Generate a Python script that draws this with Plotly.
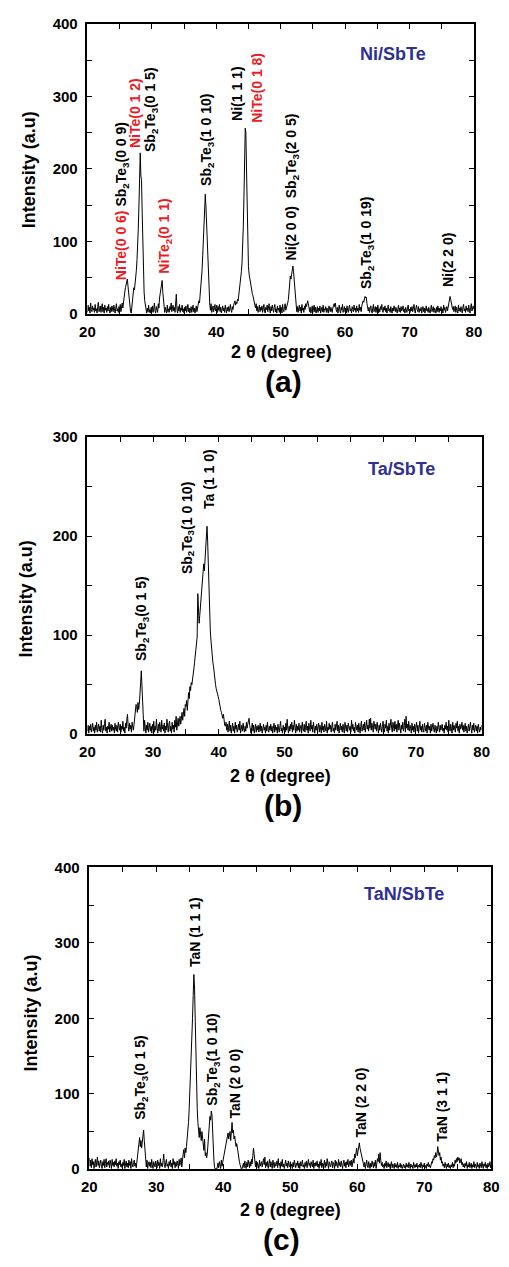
import plotly.graph_objects as go

# ---------------- data (2theta grid 20..80, step 0.1) ----------------
two_theta = [round(20 + 0.1 * i, 1) for i in range(601)]

ni_sbte = [
    2, 12, 4, 9, 1, 15, 6, 3, 11, 5,
    8, 2, 13, 4, 7, 1, 10, 16, 3, 6,
    11, 2, 7, 14, 3, 9, 1, 12, 5, 8,
    2, 10, 4, 13, 6, 1, 9, 3, 11, 7,
    3, 12, 5, 1, 8, 14, 4, 7, 2, 10,
    6, 13, 3, 9, 15, 8, 18, 22, 30, 36,
    42, 45, 48, 38, 28, 18, 8, 3, 1, 12,
    22, 30, 36, 33, 40, 52, 60, 75, 92, 118,
    150, 200, 222, 190, 185, 140, 90, 55, 30, 18,
    10, 4, 1, 8, 3, 12, 2, 6, 1, 9,
    3, 11, 2, 7, 15, 4, 1, 10, 5, 2,
    14, 8, 22, 28, 32, 40, 46, 30, 18, 6,
    2, 9, 4, 1, 12, 3, 7, 2, 10, 6,
    15, 3, 8, 12, 4, 9, 2, 11, 27, 6,
    1, 10, 4, 13, 2, 8, 5, 12, 3, 7,
    1, 9, 4, 11, 2, 6, 13, 3, 8, 1,
    5, 10, 2, 7, 12, 3, 8, 1, 6, 11,
    3, 9, 12, 18, 15, 25, 32, 45, 60, 80,
    100, 125, 150, 165, 148, 125, 85, 55, 35, 20,
    12, 5, 14, 2, 8, 11, 3, 9, 13, 4,
    8, 12, 2, 10, 5, 13, 3, 9, 1, 7,
    11, 4, 8, 2, 12, 6, 1, 9, 4, 10,
    3, 8, 13, 5, 2, 10, 6, 12, 15, 18,
    12, 16, 14, 20, 18, 25, 30, 38, 48, 58,
    70, 90, 120, 160, 200, 256, 250, 200, 140, 95,
    65, 55, 48, 42, 38, 34, 28, 25, 20, 16,
    12, 8, 14, 4, 10, 2, 7, 12, 3, 9,
    5, 11, 2, 8, 13, 4, 1, 9, 6, 12,
    3, 8, 14, 5, 1, 10, 4, 12, 7, 2,
    9, 13, 3, 7, 1, 11, 5, 8, 2, 12,
    4, 9, 1, 13, 6, 3, 10, 14, 5, 8,
    10, 15, 20, 28, 38, 52, 48, 55, 60, 66,
    58, 45, 30, 18, 8, 3, 10, 2, 7, 12,
    4, 9, 1, 13, 5, 8, 2, 11, 6, 14,
    10, 16, 18, 14, 8, 3, 9, 1, 6, 11,
    2, 7, 12, 3, 9, 1, 5, 10, 2, 8,
    4, 11, 1, 6, 9, 3, 12, 2, 7, 5,
    10, 2, 8, 4, 1, 11, 6, 3, 9, 5,
    2, 8, 12, 14, 10, 15, 6, 3, 9, 1,
    7, 12, 4, 1, 9, 5, 13, 2, 6, 10,
    3, 8, 1, 11, 5, 2, 9, 12, 4, 7,
    1, 10, 6, 3, 12, 5, 8, 2, 11, 4,
    8, 2, 13, 5, 9, 3, 11, 14, 18, 16,
    20, 24, 22, 23, 14, 8, 4, 9, 2, 7,
    11, 4, 1, 8, 13, 3, 6, 10, 2, 9,
    5, 12, 1, 7, 3, 10, 6, 13, 4, 2,
    9, 5, 11, 3, 8, 1, 6, 12, 4, 7,
    2, 10, 5, 1, 8, 4, 11, 6, 3, 9,
    5, 1, 7, 12, 3, 8, 2, 10, 4, 6,
    11, 3, 7, 1, 9, 5, 2, 8, 12, 4,
    6, 2, 9, 4, 10, 3, 7, 13, 5, 1,
    8, 12, 6, 3, 10, 2, 7, 4, 9, 1,
    6, 10, 3, 8, 1, 5, 11, 4, 7, 2,
    9, 4, 1, 7, 12, 3, 6, 10, 2, 8,
    5, 1, 9, 3, 11, 6, 2, 8, 4, 10,
    3, 7, 1, 12, 5, 9, 2, 6, 10, 4,
    8, 14, 18, 24, 20, 16, 12, 6, 10, 3,
    7, 11, 2, 9, 5, 1, 12, 4, 8, 3,
    10, 6, 1, 9, 13, 4, 7, 2, 11, 5,
    8, 3, 12, 6, 1, 9, 14, 4, 7, 11,
    6,
]

ta_sbte = [
    3, 9, 1, 8, 4, 10, 2, 6, 11, 3,
    7, 1, 9, 4, 12, 2, 6, 10, 3, 8,
    2, 14, 5, 1, 9, 4, 11, 15, 3, 7,
    1, 8, 5, 12, 2, 6, 10, 3, 9, 4,
    7, 1, 11, 5, 3, 9, 2, 12, 6, 4,
    10, 2, 8, 5, 13, 3, 7, 1, 11, 6,
    15, 20, 8, 3, 11, 5, 9, 2, 12, 6,
    4, 10, 18, 25, 30, 28, 22, 32, 25, 30,
    38, 52, 64, 48, 25, 10, 3, 14, 6, 1,
    9, 4, 12, 2, 7, 11, 3, 8, 1, 10,
    5, 13, 2, 8, 4, 15, 6, 1, 10, 3,
    12, 7, 2, 14, 5, 9, 3, 11, 1, 8,
    4, 15, 6, 2, 10, 13, 3, 8, 1, 12,
    5, 9, 2, 14, 7, 18, 4, 11, 16, 8,
    12, 18, 10, 15, 22, 14, 20, 26, 18, 30,
    28, 34, 24, 38, 42, 36, 48, 44, 52, 50,
    58, 62, 66, 72, 78, 85, 92, 98, 142, 125,
    112, 120, 128, 140, 150, 160, 168, 172, 165, 178,
    185, 200, 210, 195, 165, 140, 122, 105, 95, 85,
    75, 72, 68, 60, 55, 50, 46, 42, 40, 38,
    35, 30, 28, 24, 22, 18, 16, 20, 12, 9,
    8, 12, 4, 10, 2, 7, 13, 3, 9, 1,
    6, 11, 3, 8, 1, 12, 5, 9, 2, 7,
    10, 4, 13, 1, 6, 9, 3, 11, 5, 2,
    8, 3, 12, 6, 10, 14, 16, 9, 4, 1,
    7, 11, 3, 9, 1, 6, 10, 2, 8, 4,
    9, 2, 6, 11, 3, 8, 1, 5, 10, 4,
    7, 1, 9, 3, 12, 5, 2, 8, 4, 10,
    3, 8, 1, 6, 11, 2, 9, 4, 7, 1,
    10, 5, 2, 8, 13, 3, 6, 1, 9, 4,
    7, 2, 11, 4, 15, 6, 1, 8, 3, 10,
    5, 12, 2, 9, 4, 14, 7, 1, 10, 3,
    8, 4, 11, 2, 6, 9, 1, 12, 5, 3,
    10, 2, 7, 13, 4, 8, 1, 11, 6, 3,
    14, 5, 9, 2, 12, 6, 1, 8, 4, 10,
    3, 7, 11, 2, 9, 5, 1, 12, 4, 8,
    2, 10, 6, 3, 13, 1, 7, 4, 11, 5,
    9, 2, 8, 12, 3, 6, 1, 10, 4, 7,
    13, 3, 9, 1, 6, 11, 4, 8, 2, 10,
    5, 1, 12, 7, 3, 9, 2, 11, 6, 4,
    8, 2, 14, 5, 10, 3, 7, 1, 12, 6,
    4, 9, 2, 11, 6, 1, 8, 13, 3, 7,
    10, 4, 12, 2, 8, 14, 5, 9, 3, 15,
    6, 16, 4, 11, 7, 2, 13, 9, 5, 10,
    3, 12, 6, 1, 9, 4, 11, 7, 2, 8,
    13, 5, 2, 10, 6, 14, 3, 8, 1, 11,
    4, 9, 15, 6, 2, 12, 7, 3, 13, 5,
    10, 2, 8, 14, 4, 11, 6, 1, 9, 5,
    12, 3, 7, 15, 2, 18, 6, 10, 4, 13,
    3, 9, 6, 1, 11, 4, 8, 2, 10, 5,
    7, 12, 3, 9, 1, 6, 13, 4, 8, 2,
    10, 5, 2, 11, 7, 3, 9, 1, 12, 6,
    4, 8, 1, 10, 3, 7, 11, 5, 2, 9,
    6, 1, 8, 3, 12, 5, 2, 9, 4, 7,
    10, 3, 6, 1, 9, 5, 12, 4, 8, 2,
    14, 6, 3, 10, 7, 1, 12, 4, 9, 5,
    2, 11, 6, 13, 3, 8, 1, 10, 5, 7,
    12, 4, 9, 2, 7, 11, 3, 8, 1, 6,
    10, 3, 7, 12, 5, 1, 9, 4, 11, 2,
    6, 9, 3, 8, 1, 10, 5, 2, 7, 4,
    9,
]

tan_sbte = [
    15, 4, 12, 2, 14, 6, 10, 1, 8, 13,
    3, 9, 16, 5, 11, 2, 7, 12, 4, 1,
    10, 5, 13, 2, 8, 14, 3, 9, 6, 11,
    2, 12, 7, 1, 13, 5, 9, 3, 11, 6,
    14, 4, 8, 1, 10, 6, 12, 3, 7, 2,
    9, 5, 13, 1, 7, 11, 3, 8, 2, 12,
    5, 10, 1, 14, 6, 3, 9, 12, 4, 8,
    2, 11, 18, 25, 35, 42, 30, 38, 28, 40,
    45, 52, 38, 20, 8, 3, 12, 1, 7, 10,
    4, 9, 2, 13, 6, 1, 10, 5, 3, 11,
    7, 2, 12, 5, 9, 1, 14, 4, 8, 3,
    11, 20, 6, 2, 9, 13, 4, 7, 1, 10,
    5, 12, 3, 8, 1, 14, 6, 10, 2, 9,
    4, 11, 7, 1, 13, 5, 9, 15, 3, 18,
    20, 26, 15, 28, 22, 30, 38, 48, 62, 80,
    100, 125, 145, 170, 200, 230, 258, 240, 190, 150,
    110, 80, 62, 50, 42, 55, 48, 38, 50, 40,
    32, 25, 40, 18, 22, 15, 20, 35, 50, 62,
    70, 65, 77, 72, 45, 22, 10, 2, 0, 1,
    0, 3, 8, 2, 10, 6, 1, 12, 4, 9,
    14, 18, 22, 26, 30, 38, 44, 48, 40, 45,
    50, 38, 55, 62, 48, 52, 40, 44, 36, 30,
    34, 26, 20, 15, 10, 6, 2, 0, 1, 4,
    8, 2, 11, 5, 1, 9, 3, 12, 6, 2,
    10, 4, 13, 7, 18, 28, 20, 8, 3, 11,
    2, 9, 5, 1, 12, 4, 7, 10, 3, 8,
    14, 6, 16, 2, 9, 4, 11, 1, 7, 13,
    3, 10, 5, 1, 12, 8, 2, 9, 4, 6,
    11, 2, 14, 5, 8, 1, 10, 4, 13, 3,
    7, 1, 9, 12, 4, 8, 2, 11, 5, 3,
    10, 4, 7, 1, 9, 3, 12, 6, 2, 8,
    5, 11, 2, 8, 1, 10, 4, 7, 12, 3,
    6, 1, 9, 4, 11, 2, 7, 13, 5, 8,
    2, 10, 6, 3, 12, 1, 8, 4, 9, 5,
    11, 3, 7, 1, 10, 5, 13, 2, 8, 4,
    6, 12, 2, 9, 4, 14, 7, 1, 10, 5,
    3, 8, 11, 2, 9, 6, 1, 12, 4, 10,
    7, 2, 13, 5, 9, 3, 11, 6, 1, 8,
    12, 4, 9, 2, 10, 6, 13, 3, 8, 11,
    5, 12, 3, 9, 14, 8, 20, 15, 22, 28,
    18, 25, 30, 35, 28, 24, 20, 14, 10, 6,
    3, 9, 1, 7, 12, 4, 2, 10, 5, 1,
    8, 3, 11, 6, 2, 9, 4, 12, 1, 7,
    14, 10, 20, 8, 22, 12, 5, 9, 3, 6,
    1, 8, 4, 11, 2, 6, 9, 3, 7, 1,
    5, 10, 2, 7, 4, 1, 8, 3, 6, 2,
    9, 1, 5, 3, 8, 2, 6, 1, 4, 7,
    2, 5, 1, 8, 3, 6, 2, 9, 4, 1,
    7, 3, 5, 1, 9, 4, 2, 6, 3, 8,
    1, 5, 3, 7, 2, 9, 4, 1, 6, 3,
    8, 2, 5, 1, 7, 4, 9, 3, 6, 2,
    5, 10, 8, 14, 12, 18, 15, 22, 16, 20,
    30, 24, 18, 22, 12, 16, 8, 10, 4, 7,
    2, 9, 4, 1, 7, 3, 8, 2, 5, 1,
    6, 3, 9, 2, 7, 4, 12, 8, 14, 10,
    16, 12, 15, 8, 11, 14, 6, 9, 3, 7,
    2, 8, 4, 10, 1, 6, 3, 9, 2, 5,
    8, 1, 6, 3, 10, 2, 7, 4, 1, 9,
    3, 6, 1, 8, 4, 2, 10, 5, 1, 7,
    4, 9, 2, 6, 1, 8, 3, 5, 10, 2,
    6,
]

x_ticks = [20, 30, 40, 50, 60, 70, 80]
y_ticks_400 = [0, 100, 200, 300, 400]
y_ticks_300 = [0, 100, 200, 300]

sample_names = ["Ni/SbTe", "Ta/SbTe", "TaN/SbTe"]
panel_letters = ["(a)", "(b)", "(c)"]

RED = "#ed1c24"
NAVY = "#2e3192"
ST = "Sb<sub>2</sub>Te<sub>3</sub>"

def red(t):
    return f'<span style="color:{RED}">{t}</span>'

labels_a = [
    (25.3, 43, red("NiTe(0 0 6)") + " " + ST + "(0 0 9)"),
    (27.4, 226, red("NiTe(0 1 2)")),
    (29.9, 220, ST + "(0 1 5)"),
    (32.0, 53, red("NiTe<sub>2</sub>(0 1 1)")),
    (38.65, 173, ST + "(1 0 10)"),
    (43.3, 264, "Ni(1 1 1)"),
    (46.2, 261, red("NiTe(0 1 8)")),
    (51.7, 71, "Ni(2 0 0)  " + ST + "(2 0 5)"),
    (63.5, 31, ST + "(1 0 19)"),
    (75.95, 34, "Ni(2 2 0)"),
]
labels_b = [
    (28.4, 72, ST + "(0 1 5)"),
    (35.2, 160, ST + "(1 0 10)"),
    (38.6, 225, "Ta (1 1 0)"),
]
labels_c = [
    (27.8, 63, ST + "(0 1 5)"),
    (35.75, 265, "TaN (1 1 1)"),
    (38.5, 82, ST + "(1 0 10)"),
    (41.8, 65, "TaN (2 0 0)"),
    (60.5, 39, "TaN (2 2 0)"),
    (72.5, 34, "TaN (3 1 1)"),
]

# ---------------- layout geometry ----------------
W, H = 509, 1267
def px_x(p):
    return p / W
def px_y(p):
    return 1 - p / H

panels = [
    dict(x0=82, x1=481, y0=15, y1=309),
    dict(x0=82, x1=489, y0=434, y1=735),
    dict(x0=84, x1=499, y0=870, y1=1176),
]

fig = go.Figure()
series = [ni_sbte, ta_sbte, tan_sbte]
for k, ys in enumerate(series):
    sfx = "" if k == 0 else str(k + 1)
    fig.add_trace(go.Scatter(
        x=two_theta, y=ys, mode="lines",
        line=dict(color="black", width=1),
        xaxis="x" + sfx, yaxis="y" + sfx, showlegend=False,
        hoverinfo="skip",
    ))

FONT = "Liberation Sans, Arial, Helvetica, sans-serif"
axis_common = dict(
    showline=True, linecolor="black", linewidth=1.5, mirror="allticks",
    ticks="inside", ticklen=5, tickwidth=1.2, tickcolor="black",
    showgrid=False, zeroline=False,
    tickfont=dict(family=FONT, size=15, color="black", weight="bold"),
)

layout = dict(
    width=W, height=H, margin=dict(l=0, r=0, t=0, b=0),
    paper_bgcolor="white", plot_bgcolor="white", showlegend=False,
)
yranges = [[0, 400], [0, 300], [0, 400]]
yticks = [y_ticks_400, y_ticks_300, y_ticks_400]
for k, p in enumerate(panels):
    sfx = "" if k == 0 else str(k + 1)
    layout["xaxis" + sfx] = dict(
        axis_common, domain=[px_x(p["x0"]), px_x(p["x1"])], range=[20, 80],
        tickvals=x_ticks, anchor="y" + sfx, ticklabelstandoff=3,
        minor=dict(dtick=5, tick0=20, ticks="inside", ticklen=5,
                   tickwidth=1.2, tickcolor="black", showgrid=False),
    )
    layout["yaxis" + sfx] = dict(
        axis_common, domain=[px_y(p["y1"]), px_y(p["y0"])], range=yranges[k],
        tickvals=yticks[k], anchor="x" + sfx, ticklabelstandoff=5,
        minor=dict(dtick=50, tick0=0, ticks="inside", ticklen=5,
                   tickwidth=1.2, tickcolor="black", showgrid=False),
    )
fig.update_layout(**layout)

annotations = []
label_font = dict(family=FONT, size=14, color="black", weight="bold")
for k, labs in enumerate([labels_a, labels_b, labels_c]):
    sfx = "" if k == 0 else str(k + 1)
    for (xv, yv, txt) in labs:
        annotations.append(dict(
            x=xv, y=yv, xref="x" + sfx, yref="y" + sfx, text=txt,
            textangle=-90, xanchor="center", yanchor="bottom",
            showarrow=False, font=label_font,
        ))

name_pos = [(67.5, 358), (67.8, 268), (67.0, 365)]
for k, (xv, yv) in enumerate(name_pos):
    sfx = "" if k == 0 else str(k + 1)
    annotations.append(dict(
        x=xv, y=yv, xref="x" + sfx, yref="y" + sfx, text=sample_names[k],
        showarrow=False, xanchor="center", yanchor="middle",
        font=dict(family=FONT, size=18, color=NAVY, weight="bold"),
    ))

xt_pos = [(282, 348), (281, 777), (292, 1217)]
yt_pos = [(21, 163), (19, 598), (24, 1018)]
let_pos = [(284, 378), (284, 807), (282, 1247)]
for k in range(3):
    annotations.append(dict(
        x=px_x(xt_pos[k][0]), y=px_y(xt_pos[k][1]), xref="paper", yref="paper",
        text="2 θ (degree)", showarrow=False, xanchor="center", yanchor="middle",
        font=dict(family=FONT, size=18, color="black", weight="bold"),
    ))
    annotations.append(dict(
        x=px_x(yt_pos[k][0]), y=px_y(yt_pos[k][1]), xref="paper", yref="paper",
        text="Intensity (a.u)", showarrow=False, xanchor="center", yanchor="middle",
        textangle=-90,
        font=dict(family=FONT, size=18, color="black", weight="bold"),
    ))
    annotations.append(dict(
        x=px_x(let_pos[k][0]), y=px_y(let_pos[k][1]), xref="paper", yref="paper",
        text=panel_letters[k], showarrow=False, xanchor="center", yanchor="middle",
        font=dict(family=FONT, size=30, color="black", weight="bold"),
    ))

fig.update_layout(annotations=annotations)
fig.write_html(
    "out.html",
    config={"displayModeBar": False},
    post_script="document.body.style.margin='0';document.body.style.overflow='hidden';",
)
